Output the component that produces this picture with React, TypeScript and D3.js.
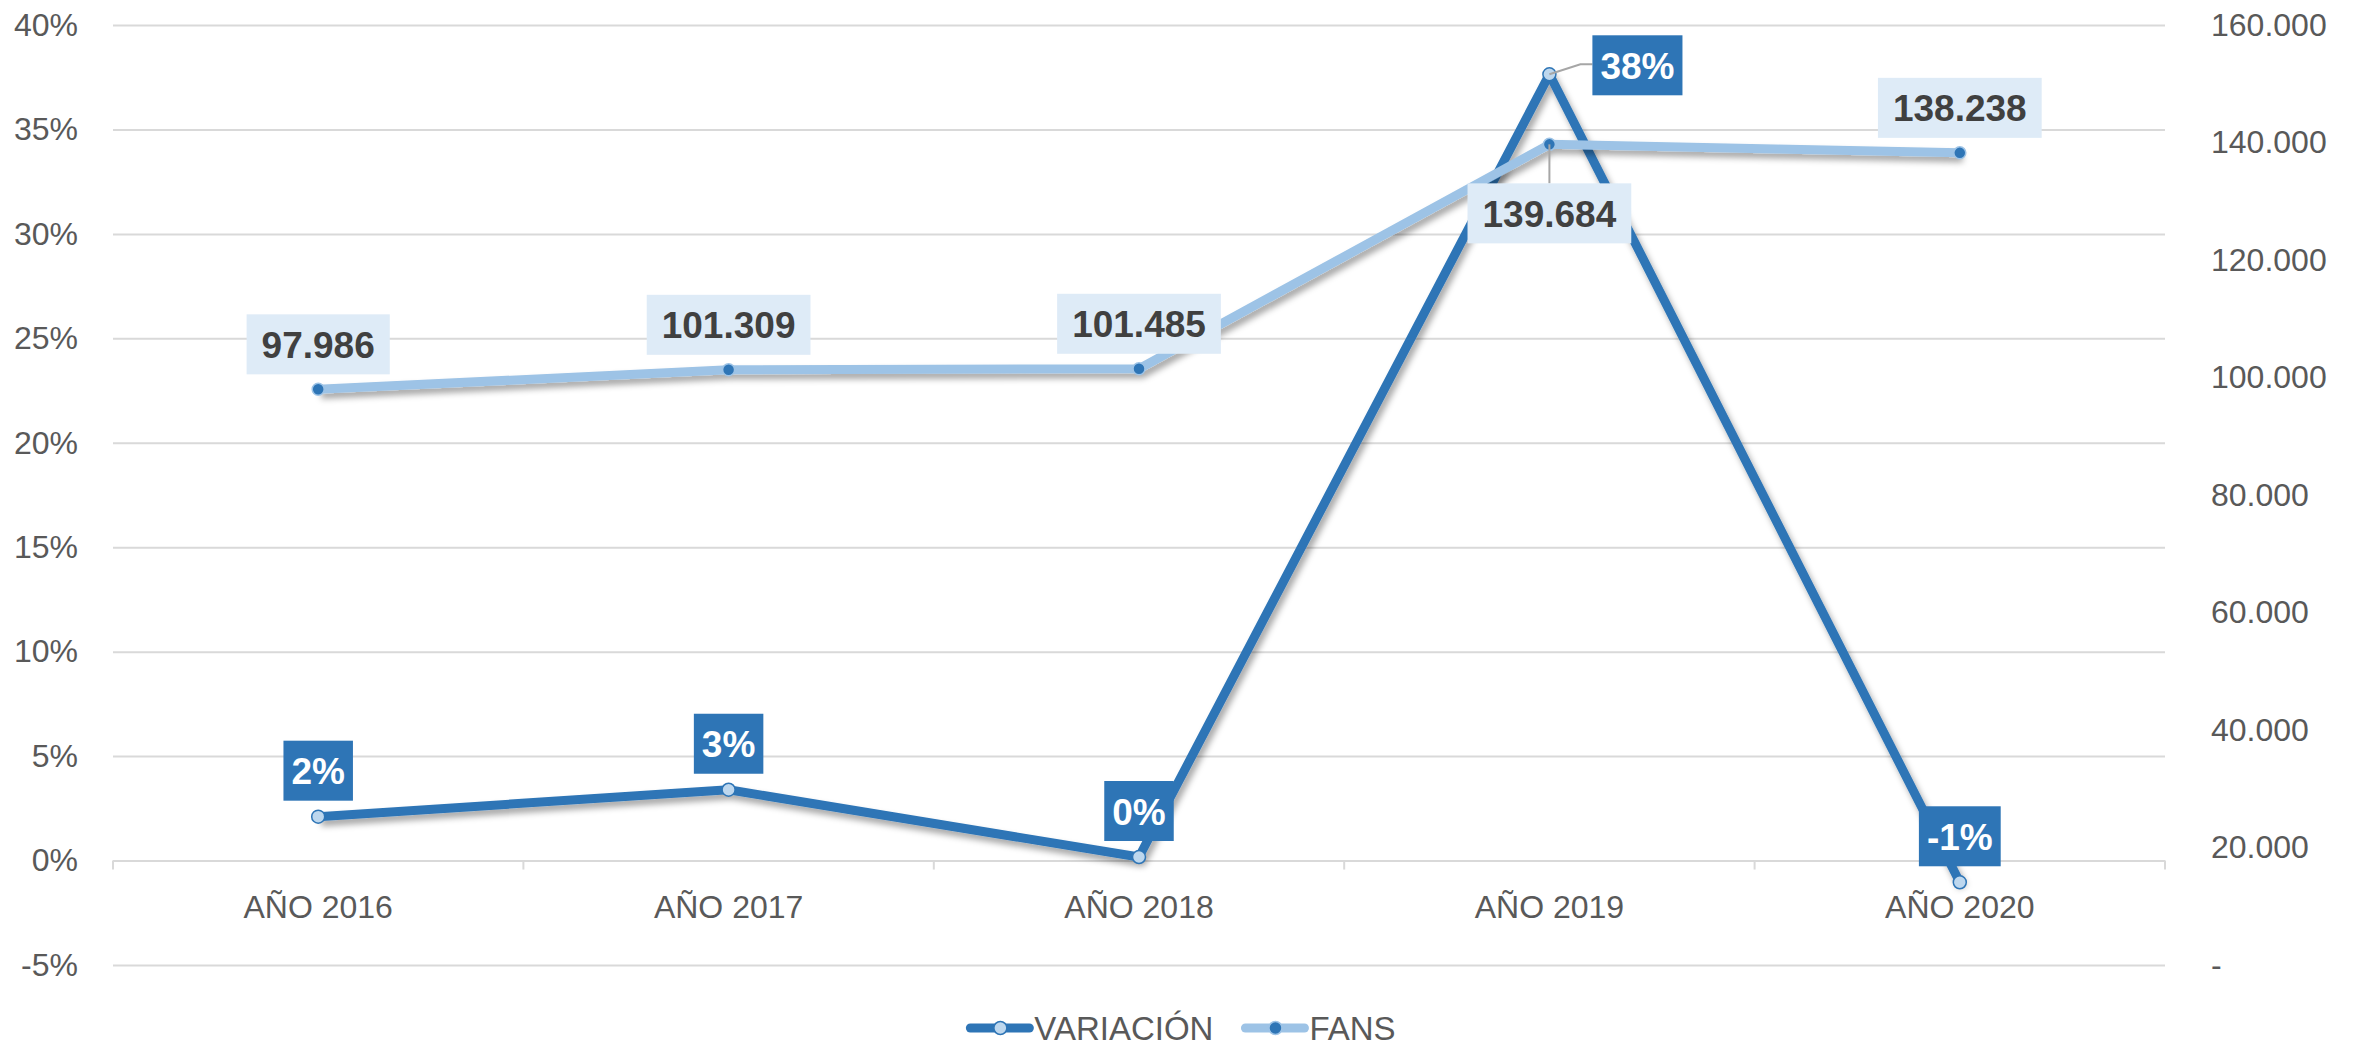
import React, { useEffect, useRef } from 'react'
import * as d3 from 'd3'

const categories = ['AÑO 2016', 'AÑO 2017', 'AÑO 2018', 'AÑO 2019', 'AÑO 2020']
const variacion = [0.021, 0.0339, 0.0017, 0.3764, -0.0104]
const fans = [97986, 101309, 101485, 139684, 138238]
const pctTicks = [-0.05, 0, 0.05, 0.1, 0.15, 0.2, 0.25, 0.3, 0.35, 0.4]
const fansTicks = [0, 20000, 40000, 60000, 80000, 100000, 120000, 140000, 160000]
const seriesNames = ['VARIACIÓN', 'FANS']

// where each data label sits relative to its point
const variacionLabelSide = ['above', 'above', 'above', 'right', 'above']
const fansLabelSide = ['above', 'above', 'above', 'below', 'above']

const W = 2366, H = 1047
const DARK = '#2E75B6', LIGHT = '#9DC3E6', PALE = '#BDD7EE', BOX = '#DEEBF7'
const GREY = '#595959'
const FONT = '"Liberation Sans", Arial, sans-serif'

const es = d3.formatLocale({ decimal: ',', thousands: '.', grouping: [3], currency: ['', ' €'], minus: '-' })
const fmtPct = es.format('.0%')
const fmtNum = es.format(',d')

export default function App() {
  const ref = useRef<SVGSVGElement>(null)

  useEffect(() => {
    document.body.style.margin = '0'
    const svg = d3.select(ref.current)
    svg.selectAll('*').remove()

    const left = 113, right = 2165, top = 25, bottom = 965
    const x = d3.scaleBand<string>().domain(categories).range([left, right])
    const yL = d3.scaleLinear().domain([-0.05, 0.4]).range([bottom, top])
    const yR = d3.scaleLinear().domain([0, 160000]).range([bottom, top])
    const cx = (i: number) => (x(categories[i]) as number) + x.bandwidth() / 2

    svg.append('defs').append('filter').attr('id', 'shadow')
      .attr('x', '-10%').attr('y', '-10%').attr('width', '120%').attr('height', '140%')
      .append('feDropShadow')
      .attr('dx', 3).attr('dy', 5).attr('stdDeviation', 3)
      .attr('flood-color', '#000').attr('flood-opacity', 0.35)

    // left axis + gridlines
    const gl = svg.append('g').attr('transform', `translate(${left},0)`)
      .call(d3.axisLeft(yL).tickValues(pctTicks).tickFormat((d) => fmtPct(d as number))
        .tickSize(-(right - left)).tickPadding(35))
    gl.select('.domain').remove()
    gl.selectAll('.tick line').attr('stroke', '#D9D9D9').attr('stroke-width', 2)

    // right axis
    const gr = svg.append('g').attr('transform', `translate(${right},0)`)
      .call(d3.axisRight(yR).tickValues(fansTicks)
        .tickFormat((d) => (d === 0 ? '-' : fmtNum(d as number)))
        .tickSize(0).tickPadding(46))
    gr.select('.domain').remove()

    // category axis on the 0% line
    const y0 = yL(0)
    const gx = svg.append('g').attr('transform', `translate(0,${y0})`)
      .call(d3.axisBottom(x).tickSize(0).tickPadding(35))
    gx.select('.domain').remove()
    svg.append('g').selectAll('line')
      .data(d3.range(categories.length + 1))
      .join('line')
      .attr('x1', (i) => left + i * x.step()).attr('x2', (i) => left + i * x.step())
      .attr('y1', y0).attr('y2', y0 + 9)
      .attr('stroke', '#D9D9D9').attr('stroke-width', 2)

    svg.selectAll('.tick text')
      .attr('fill', GREY).attr('font-size', 32).attr('font-family', FONT)

    // lines
    const lineV = d3.line<number>().x((d, i) => cx(i)).y((d) => yL(d))
    const lineF = d3.line<number>().x((d, i) => cx(i)).y((d) => yR(d))

    svg.append('path').datum(variacion)
      .attr('d', lineV).attr('fill', 'none')
      .attr('stroke', DARK).attr('stroke-width', 9).attr('stroke-linejoin', 'round')
      .attr('filter', 'url(#shadow)')
    svg.append('g').selectAll('circle').data(variacion).join('circle')
      .attr('cx', (d, i) => cx(i)).attr('cy', (d) => yL(d)).attr('r', 6.5)
      .attr('fill', PALE).attr('stroke', DARK).attr('stroke-width', 1.5)

    svg.append('path').datum(fans)
      .attr('d', lineF).attr('fill', 'none')
      .attr('stroke', LIGHT).attr('stroke-width', 9).attr('stroke-linejoin', 'round')
      .attr('filter', 'url(#shadow)')
    svg.append('g').selectAll('circle').data(fans).join('circle')
      .attr('cx', (d, i) => cx(i)).attr('cy', (d) => yR(d)).attr('r', 6)
      .attr('fill', DARK).attr('stroke', LIGHT).attr('stroke-width', 1.5)

    // data labels
    const labels = svg.append('g')
    const drawLabel = (text: string, px: number, py: number, side: string,
      fill: string, color: string, pad: number, gap: number) => {
      const lg = labels.append('g')
      const rect = lg.append('rect').attr('fill', fill)
      const t = lg.append('text').text(text)
        .attr('font-family', FONT).attr('font-weight', 'bold').attr('font-size', 37)
        .attr('fill', color).attr('text-anchor', 'middle').attr('dominant-baseline', 'central')
      const tw = (t.node() as SVGTextElement).getComputedTextLength()
      const bw = tw + 2 * pad, bh = 60
      let bx = px - bw / 2, by = py - gap - bh
      if (side === 'below') {
        by = py + 39
        lg.insert('line', 'rect').attr('x1', px).attr('x2', px).attr('y1', py).attr('y2', by)
          .attr('stroke', '#A6A6A6').attr('stroke-width', 2)
      }
      if (side === 'right') {
        bx = px + 43
        by = py - 39
        lg.insert('polyline', 'rect')
          .attr('points', `${px},${py} ${px + 31},${py - 10} ${bx},${py - 10}`)
          .attr('fill', 'none').attr('stroke', '#A6A6A6').attr('stroke-width', 2)
      }
      rect.attr('x', bx).attr('y', by).attr('width', bw).attr('height', bh)
      t.attr('x', bx + bw / 2).attr('y', by + bh / 2 + 1)
    }

    variacion.forEach((v, i) =>
      drawLabel(fmtPct(v), cx(i), yL(v), variacionLabelSide[i], DARK, '#FFFFFF', 8, 16))
    fans.forEach((v, i) =>
      drawLabel(fmtNum(v), cx(i), yR(v), fansLabelSide[i], BOX, '#404040', 15, 15))

    // legend
    const legY = 1028
    const leg = svg.append('g')
    const items = seriesNames.map((name, i) => {
      const g = leg.append('g')
      g.append('line').attr('x1', 0).attr('x2', 59).attr('y1', legY).attr('y2', legY)
        .attr('stroke', i === 0 ? DARK : LIGHT).attr('stroke-width', 9).attr('stroke-linecap', 'round')
      g.append('circle').attr('cx', 30).attr('cy', legY).attr('r', 6.5)
        .attr('fill', i === 0 ? PALE : DARK).attr('stroke', i === 0 ? DARK : LIGHT).attr('stroke-width', 1.5)
      const t = g.append('text').text(name).attr('x', 64).attr('y', legY)
        .attr('font-family', FONT).attr('font-size', 33).attr('fill', GREY)
        .attr('dominant-baseline', 'central')
      const w = 64 + (t.node() as SVGTextElement).getComputedTextLength()
      return { g, w }
    })
    const gapItems = 32
    const total = d3.sum(items, (d) => d.w) + gapItems * (items.length - 1)
    let xPos = W / 2 - total / 2
    items.forEach((it) => {
      it.g.attr('transform', `translate(${xPos},0)`)
      xPos += it.w + gapItems
    })
  }, [])

  return (
    <svg ref={ref} width={W} height={H} style={{ display: 'block', background: '#FFFFFF' }} />
  )
}
